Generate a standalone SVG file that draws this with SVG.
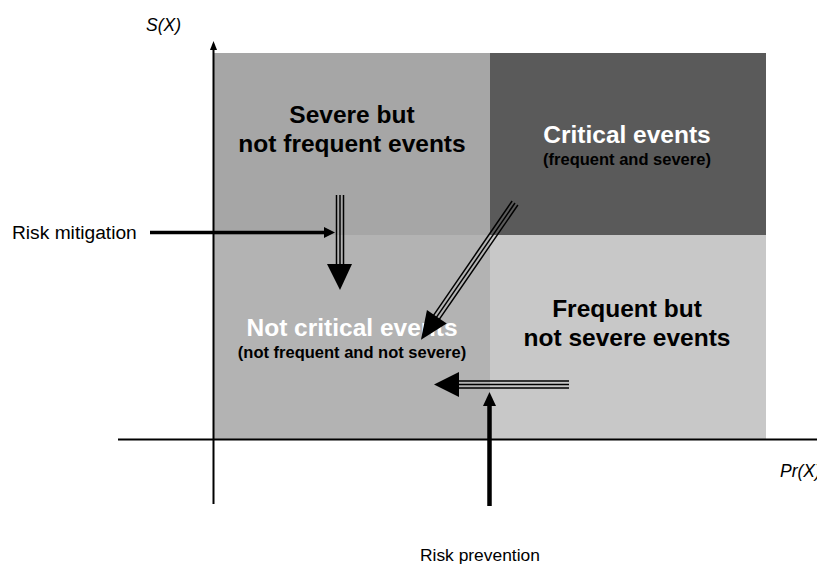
<svg xmlns="http://www.w3.org/2000/svg" width="817" height="568" viewBox="0 0 817 568">
<style>
.t{font-family:"Liberation Sans",Arial,sans-serif;}
.big{font-size:24.5px;font-weight:bold;text-anchor:middle;}
.sm{font-size:16.5px;font-weight:bold;text-anchor:middle;fill:#000;}
.lbl{fill:#000;}
.ax{font-size:17.5px;font-style:italic;fill:#000;}
.tl{stroke:#000;stroke-width:1.5;fill:none;}
</style>
<rect width="817" height="568" fill="#fff"/>
<g id="q-severe"><rect x="214" y="53" width="276" height="182" fill="#a6a6a6"/>
<text class="t big" x="352" y="123">Severe but</text>
<text class="t big" x="352" y="152">not frequent events</text></g>
<g id="q-critical"><rect x="490" y="53" width="276" height="182" fill="#5a5a5a"/>
<text class="t big" x="627" y="143" fill="#fff">Critical events</text>
<text class="t sm" x="627" y="165">(frequent and severe)</text></g>
<g id="q-notcritical"><rect x="214" y="235" width="276" height="204" fill="#b3b3b3"/>
<text class="t big" x="352" y="336" fill="#fff">Not critical events</text>
<text class="t sm" x="352" y="358">(not frequent and not severe)</text></g>
<g id="q-frequent"><rect x="490" y="235" width="276" height="204" fill="#c8c8c8"/>
<text class="t big" x="627" y="317">Frequent but</text>
<text class="t big" x="627" y="346">not severe events</text></g>
<g id="axes">
<line x1="213.5" y1="48" x2="213.5" y2="504" stroke="#000" stroke-width="2"/>
<polygon points="213.5,41 210,50 217,50" fill="#000"/>
<line x1="118" y1="439.5" x2="817" y2="439.5" stroke="#000" stroke-width="2"/>
<text class="t ax" x="146" y="31">S(X)</text>
<text class="t ax" x="780" y="477">Pr(X)</text>
</g>
<g id="connectors">
<g id="mitigation-down">
<line class="tl" x1="336.5" y1="195" x2="336.5" y2="266"/>
<line class="tl" x1="340" y1="195" x2="340" y2="266"/>
<line class="tl" x1="343.5" y1="195" x2="343.5" y2="266"/>
<polygon points="327,264 352,264 340,290" fill="#000"/>
</g>
<g id="diag" transform="translate(515,203) rotate(124.5)">
<line class="tl" x1="0" y1="-3.5" x2="140" y2="-3.5"/>
<line class="tl" x1="0" y1="0" x2="140" y2="0"/>
<line class="tl" x1="0" y1="3.5" x2="140" y2="3.5"/>
<polygon points="138,-12 138,12 166,0" fill="#000"/>
</g>
<g id="prevention-left">
<line class="tl" x1="457" y1="381" x2="569" y2="381"/>
<line class="tl" x1="457" y1="384.5" x2="569" y2="384.5"/>
<line class="tl" x1="457" y1="388" x2="569" y2="388"/>
<polygon points="459,372 459,397 434,384.5" fill="#000"/>
</g>
<line x1="150" y1="232.5" x2="326" y2="232.5" stroke="#000" stroke-width="3.5"/>
<polygon points="324,227 324,238 335,232.5" fill="#000"/>
<line x1="489.5" y1="403" x2="489.5" y2="506" stroke="#000" stroke-width="4.5"/>
<polygon points="489.5,392 483,406 496,406" fill="#000"/>
</g>
<text class="t lbl" x="12" y="239" font-size="19.2">Risk mitigation</text>
<text class="t lbl" x="420" y="561" font-size="17.4">Risk prevention</text>
</svg>
